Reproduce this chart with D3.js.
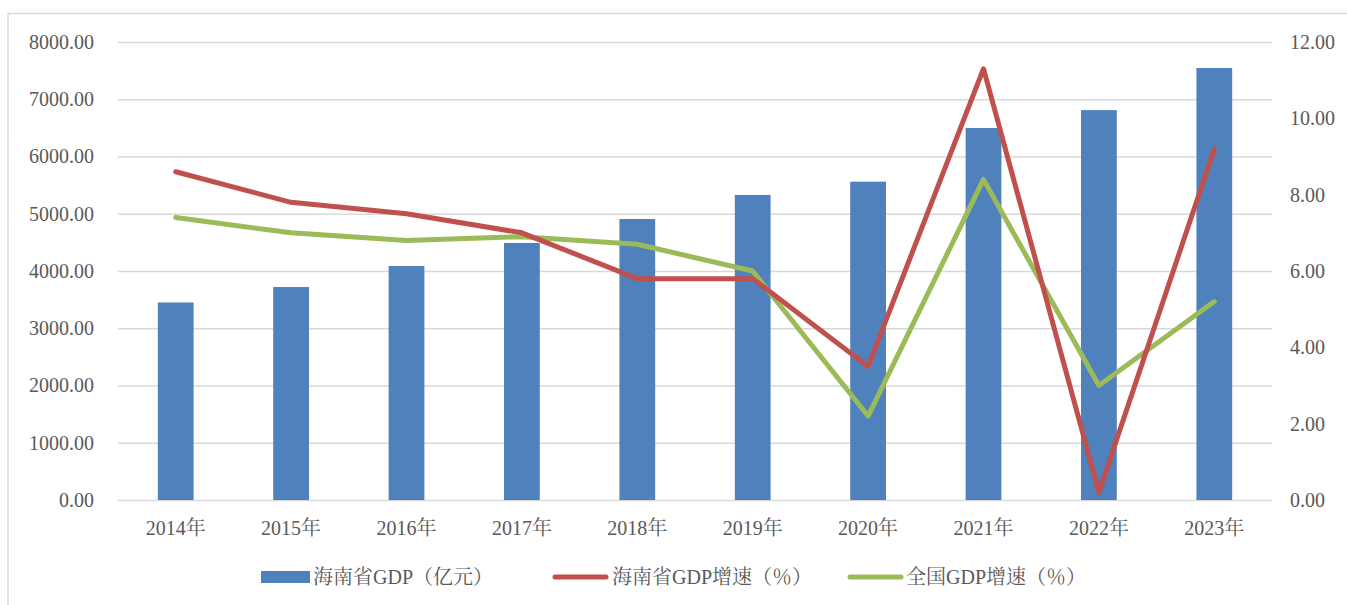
<!DOCTYPE html>
<html><head><meta charset="utf-8">
<script src="https://cdn.jsdelivr.net/npm/d3@7"></script>
<style>html,body{margin:0;padding:0;background:#fff;}svg{display:block;}</style>
</head><body>
<svg id="c" width="1347" height="605"></svg>
<script>
const categories = ["2014年","2015年","2016年","2017年","2018年","2019年","2020年","2021年","2022年","2023年"];
const gdp = [3450, 3720, 4087, 4489, 4908, 5328, 5560, 6498, 6810, 7546];
const hainanGrowth = [8.6, 7.8, 7.5, 7.0, 5.8, 5.8, 3.5, 11.3, 0.2, 9.2];
const nationalGrowth = [7.4, 7.0, 6.8, 6.9, 6.7, 6.0, 2.2, 8.4, 3.0, 5.2];
const leftTicks = [0,1000,2000,3000,4000,5000,6000,7000,8000];
const rightTicks = [0,2,4,6,8,10,12];
const seriesNames = ["海南省GDP（亿元）","海南省GDP增速（％）","全国GDP增速（％）"];

const font = '"Liberation Serif","Times New Roman","Noto Serif CJK SC","Noto Sans CJK SC",serif';
const txt = "#595959", grid = "#d9d9d9";
const cBar = "#4f81bd", cRed = "#c0504d", cGreen = "#9bbb59";

const svg = d3.select("#c");
svg.append("rect").attr("x",8).attr("y",13.5).attr("width",1500).attr("height",800)
  .attr("fill","none").attr("stroke",grid).attr("stroke-width",1.5);

const L = 118, R = 1272, T = 42, B = 500;
const x = d3.scaleBand().domain(categories).range([L,R]).paddingInner(0.69).paddingOuter(0.345);
const xc = d => x(d) + x.bandwidth()/2;
const yL = d3.scaleLinear().domain([0,8000]).range([B,T]);
const yR = d3.scaleLinear().domain([0,12]).range([B,T]);

// gridlines
const gGrid = svg.append("g").call(d3.axisLeft(yL).tickValues(leftTicks).tickSize(-(R-L)).tickFormat(""))
  .attr("transform",`translate(${L},0)`);
gGrid.select(".domain").remove();
gGrid.selectAll("line").attr("stroke",grid).attr("stroke-width",1.5);

// left axis labels
const gl = svg.append("g").attr("transform",`translate(${L},0)`)
  .call(d3.axisLeft(yL).tickValues(leftTicks).tickFormat(d3.format(".2f")).tickSize(0).tickPadding(24));
gl.select(".domain").remove();
gl.selectAll("text").attr("fill",txt).style("font-family",font).style("font-size","20px");

// right axis labels
const gr = svg.append("g").attr("transform",`translate(${R},0)`)
  .call(d3.axisRight(yR).tickValues(rightTicks).tickFormat(d3.format(".2f")).tickSize(0).tickPadding(18));
gr.select(".domain").remove();
gr.selectAll("text").attr("fill",txt).style("font-family",font).style("font-size","20px");

// bars
svg.append("g").selectAll("rect").data(gdp).join("rect")
  .attr("x",(d,i)=>x(categories[i])).attr("width",x.bandwidth())
  .attr("y",d=>yL(d)).attr("height",d=>yL(0)-yL(d)).attr("fill",cBar);

// x axis
const gx = svg.append("g").attr("transform",`translate(0,${B})`)
  .call(d3.axisBottom(x).tickSize(0).tickPadding(21));
gx.select(".domain").remove();
gx.selectAll("text").attr("fill",txt).style("font-family",font).style("font-size","20px");

// lines
const line = d3.line().x((d,i)=>xc(categories[i])).y(d=>yR(d));
svg.append("path").datum(nationalGrowth).attr("d",line).attr("fill","none")
  .attr("stroke",cGreen).attr("stroke-width",5).attr("stroke-linejoin","round").attr("stroke-linecap","round");
svg.append("path").datum(hainanGrowth).attr("d",line).attr("fill","none")
  .attr("stroke",cRed).attr("stroke-width",5).attr("stroke-linejoin","round").attr("stroke-linecap","round");

// legend
const legY = 577;
const lg = svg.append("g");
const items = [
  {name:seriesNames[0], type:"bar", color:cBar, x0:261, tx:52},
  {name:seriesNames[1], type:"line", color:cRed, x0:553, tx:59},
  {name:seriesNames[2], type:"line", color:cGreen, x0:848, tx:58}
];
items.forEach(it=>{
  if(it.type==="bar"){
    lg.append("rect").attr("x",it.x0).attr("y",legY-6).attr("width",49).attr("height",12).attr("fill",it.color);
  } else {
    lg.append("line").attr("x1",it.x0+2).attr("x2",it.x0+53).attr("y1",legY).attr("y2",legY)
      .attr("stroke",it.color).attr("stroke-width",5).attr("stroke-linecap","round");
  }
  lg.append("text").attr("x",it.x0+it.tx).attr("y",legY).attr("dy","0.35em").attr("fill",txt)
    .style("font-family",font).style("font-size","20px").text(it.name);
});
</script>
</body></html>
